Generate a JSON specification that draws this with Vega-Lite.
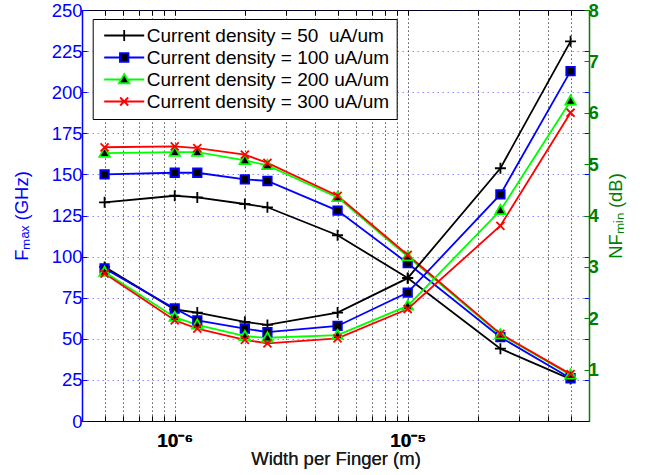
{
  "$schema": "https://vega.github.io/schema/vega-lite/v6.json",
  "width": 507,
  "height": 411,
  "autosize": {"type": "none"},
  "padding": {"left": 82, "top": 10, "right": 57, "bottom": 54},
  "background": "white",
  "config": {
    "view": {"stroke": "black", "strokeWidth": 1},
    "font": "Liberation Sans",
    "legend": {
      "orient": "none",
      "legendX": 10.7,
      "legendY": 9,
      "direction": "vertical",
      "strokeColor": "black",
      "fillColor": "white",
      "padding": 7,
      "rowPadding": 2,
      "symbolSize": 100,
      "symbolStrokeWidth": 1.8,
      "labelFont": "Liberation Sans",
      "labelFontSize": 19,
      "labelColor": "black",
      "labelOffset": 28,
      "labelLimit": 400
    }
  },
  "data": {
    "values": [
      {"w": 5e-7, "d": "50", "fmax": 133, "nf": 3.0},
      {"w": 1e-6, "d": "50", "fmax": 137, "nf": 2.17},
      {"w": 1.25e-6, "d": "50", "fmax": 136, "nf": 2.11},
      {"w": 2e-6, "d": "50", "fmax": 132, "nf": 1.93},
      {"w": 2.5e-6, "d": "50", "fmax": 130, "nf": 1.87},
      {"w": 5e-6, "d": "50", "fmax": 113, "nf": 2.11},
      {"w": 1e-5, "d": "50", "fmax": 87, "nf": 2.78},
      {"w": 2.5e-5, "d": "50", "fmax": 44, "nf": 4.92},
      {"w": 5e-5, "d": "50", "fmax": 25.5, "nf": 7.39},
      {"w": 5e-7, "d": "100", "fmax": 150, "nf": 2.97},
      {"w": 1e-6, "d": "100", "fmax": 151, "nf": 2.19},
      {"w": 1.25e-6, "d": "100", "fmax": 151, "nf": 1.96},
      {"w": 2e-6, "d": "100", "fmax": 147, "nf": 1.80},
      {"w": 2.5e-6, "d": "100", "fmax": 146, "nf": 1.73},
      {"w": 5e-6, "d": "100", "fmax": 128, "nf": 1.85},
      {"w": 1e-5, "d": "100", "fmax": 96, "nf": 2.50},
      {"w": 2.5e-5, "d": "100", "fmax": 51, "nf": 4.41},
      {"w": 5e-5, "d": "100", "fmax": 26, "nf": 6.81},
      {"w": 5e-7, "d": "200", "fmax": 163, "nf": 2.90},
      {"w": 1e-6, "d": "200", "fmax": 163.5, "nf": 2.02},
      {"w": 1.25e-6, "d": "200", "fmax": 163.5, "nf": 1.87},
      {"w": 2e-6, "d": "200", "fmax": 158.5, "nf": 1.65},
      {"w": 2.5e-6, "d": "200", "fmax": 155.5, "nf": 1.62},
      {"w": 5e-6, "d": "200", "fmax": 136, "nf": 1.67},
      {"w": 1e-5, "d": "200", "fmax": 100, "nf": 2.24},
      {"w": 2.5e-5, "d": "200", "fmax": 52.5, "nf": 4.10},
      {"w": 5e-5, "d": "200", "fmax": 28, "nf": 6.23},
      {"w": 5e-7, "d": "300", "fmax": 166.5, "nf": 2.87},
      {"w": 1e-6, "d": "300", "fmax": 167, "nf": 1.96},
      {"w": 1.25e-6, "d": "300", "fmax": 166, "nf": 1.80},
      {"w": 2e-6, "d": "300", "fmax": 162, "nf": 1.58},
      {"w": 2.5e-6, "d": "300", "fmax": 157, "nf": 1.51},
      {"w": 5e-6, "d": "300", "fmax": 137, "nf": 1.61},
      {"w": 1e-5, "d": "300", "fmax": 101, "nf": 2.18},
      {"w": 2.5e-5, "d": "300", "fmax": 53, "nf": 3.80},
      {"w": 5e-5, "d": "300", "fmax": 28.5, "nf": 6.00}
    ]
  },
  "encoding": {
    "x": {
      "field": "w",
      "type": "quantitative",
      "scale": {"type": "log", "domain": [4e-7, 6e-5], "nice": false},
      "axis": {
        "orient": "bottom",
        "values": [4e-7, 5e-7, 6e-7, 7e-7, 8e-7, 9e-7, 1e-6, 2e-6, 3e-6, 4e-6, 5e-6, 6e-6, 7e-6, 8e-6, 9e-6, 1e-5, 2e-5, 3e-5, 4e-5, 5e-5, 6e-5],
        "labelExpr": "abs(log(datum.value)/LN10 + 6) < 0.01 ? '10⁻⁶' : (abs(log(datum.value)/LN10 + 5) < 0.01 ? '10⁻⁵' : '')",
        "title": "Width per Finger (m)",
        "titleFont": "Liberation Sans",
        "titleFontSize": 18.5,
        "titleFontWeight": "normal",
        "titleColor": "#1a1a1a",
        "titlePadding": -1,
        "labelFont": "Liberation Sans",
        "labelFontSize": 19,
        "labelFontWeight": "bold",
        "labelColor": "black",
        "labelPadding": 15,
        "labelOverlap": false,
        "labelFlush": false,
        "labelBound": false,
        "tickSize": -5,
        "tickColor": "black",
        "domainColor": "black",
        "grid": true,
        "gridColor": "#555555",
        "gridDash": [1.5, 2.5],
        "gridOpacity": 0.7
      }
    }
  },
  "layer": [
    {
      "encoding": {
        "stroke": {
          "field": "d",
          "type": "nominal",
          "scale": {"domain": ["100", "200", "300", "50"], "range": ["#0000FF", "#00FF00", "#FF0000", "#000000"]},
          "legend": null
        }
      },
      "layer": [
        {
          "mark": {"type": "line", "strokeWidth": 1.8},
          "encoding": {
            "y": {
              "field": "fmax",
              "type": "quantitative",
              "scale": {"domain": [0, 250], "nice": false},
              "axis": {
                "orient": "left",
                "values": [0, 25, 50, 75, 100, 125, 150, 175, 200, 225, 250],
                "title": "Fₘₐₓ (GHz)",
                "titleColor": "#0000FF",
                "titleFont": "Liberation Sans",
                "titleFontSize": 18.5,
                "titleFontWeight": "normal",
                "titlePadding": 20,
                "labelColor": "#0000FF",
                "labelFont": "Liberation Sans",
                "labelFontSize": 18.5,
                "labelPadding": 5,
                "tickColor": "#0000FF",
                "tickSize": -5,
                "domainColor": "#0000FF",
                "domainWidth": 1.5,
                "grid": true,
                "gridColor": "#0000FF",
                "gridDash": [1.5, 3.5],
                "gridOpacity": 0.45
              }
            }
          }
        },
        {
          "mark": {"type": "point", "strokeWidth": 1.8, "opacity": 1, "size": 100},
          "encoding": {
            "y": {
              "field": "fmax",
              "type": "quantitative",
              "axis": {
                "orient": "right",
                "values": [25, 50, 75, 100, 125, 150, 175, 200, 225],
                "labels": false,
                "title": null,
                "domain": false,
                "grid": false,
                "tickColor": "#0000FF",
                "tickSize": -5
              }
            },
            "fill": {
              "field": "d",
              "type": "nominal",
              "scale": {"domain": ["100", "200", "300", "50"], "range": ["#000000", "#000000", "transparent", "transparent"]},
              "legend": null
            },
            "shape": {
              "field": "d",
              "type": "nominal",
              "scale": {"domain": ["100", "200", "300", "50"], "range": ["M-0.85,-0.85H0.85V0.85H-0.85Z", "M0,-1.1L1.05,0.75H-1.05Z", "M-0.8,-0.8L0.8,0.8M-0.8,0.8L0.8,-0.8", "M-1.1,0H1.1M0,-1.1V1.1"]},
              "legend": null
            }
          }
        }
      ]
    },
    {
      "encoding": {
        "stroke": {
          "field": "d",
          "type": "nominal",
          "scale": {"domain": ["100", "200", "300", "50"], "range": ["#0000FF", "#00FF00", "#FF0000", "#000000"]},
          "legend": null
        }
      },
      "layer": [
        {
          "mark": {"type": "line", "strokeWidth": 1.8},
          "encoding": {
            "x": {
              "field": "w",
              "type": "quantitative",
              "axis": {
                "orient": "top",
                "values": [5e-7, 6e-7, 7e-7, 8e-7, 9e-7, 1e-6, 2e-6, 3e-6, 4e-6, 5e-6, 6e-6, 7e-6, 8e-6, 9e-6, 1e-5, 2e-5, 3e-5, 4e-5, 5e-5],
                "labels": false,
                "title": null,
                "domain": false,
                "grid": false,
                "tickColor": "black",
                "tickSize": -5
              }
            },
            "y": {
              "field": "nf",
              "type": "quantitative",
              "scale": {"domain": [0, 8], "nice": false},
              "axis": {
                "orient": "right",
                "values": [1, 2, 3, 4, 5, 6, 7, 8],
                "title": "NFₘᵢₙ (dB)",
                "titleAngle": 270,
                "titleColor": "#008000",
                "titleFont": "Liberation Sans",
                "titleFontSize": 18.5,
                "titleFontWeight": "normal",
                "titlePadding": 27,
                "labelColor": "#008000",
                "labelFont": "Liberation Sans",
                "labelFontSize": 18.5,
                "labelFontWeight": "bold",
                "labelPadding": 4,
                "tickColor": "#008000",
                "tickSize": -5,
                "domainColor": "#008000",
                "domainWidth": 1.5,
                "grid": false
              }
            }
          }
        },
        {
          "mark": {"type": "point", "strokeWidth": 1.8, "opacity": 1, "size": 100},
          "encoding": {
            "y": {"field": "nf", "type": "quantitative"},
            "fill": {
              "field": "d",
              "type": "nominal",
              "scale": {"domain": ["100", "200", "300", "50"], "range": ["#000000", "#000000", "transparent", "transparent"]},
              "legend": null
            },
            "shape": {
              "field": "d",
              "type": "nominal",
              "scale": {"domain": ["100", "200", "300", "50"], "range": ["M-0.85,-0.85H0.85V0.85H-0.85Z", "M0,-1.1L1.05,0.75H-1.05Z", "M-0.8,-0.8L0.8,0.8M-0.8,0.8L0.8,-0.8", "M-1.1,0H1.1M0,-1.1V1.1"]},
              "legend": null
            }
          }
        }
      ]
    },
    {
      "transform": [{"filter": "false"}],
      "mark": {"type": "point", "filled": true, "fill": "black", "strokeWidth": 1.8, "opacity": 1, "size": 100},
      "encoding": {
        "x": {"field": "w", "type": "quantitative", "axis": null},
        "stroke": {
          "field": "d",
          "type": "nominal",
          "title": null,
          "scale": {"domain": ["50", "100", "200", "300"], "range": ["#000000", "#0000FF", "#00FF00", "#FF0000"]},
          "legend": {
            "title": null,
            "labelExpr": "'Current density = ' + datum.value + (datum.value == '50' ? '\u00a0 ' : ' ') + 'uA/um'"
          }
        },
        "shape": {
          "field": "d",
          "type": "nominal",
          "title": null,
          "scale": {"domain": ["50", "100", "200", "300"], "range": ["M-1,0H7M3,-1.1V1.1", "M-1,0H2.15M3.85,0H7M2.15,-0.85H3.85V0.85H2.15Z", "M-1,0H2.38M3.62,0H7M3,-1.1L4.05,0.75H1.95Z", "M-1,0H7M2.2,-0.8L3.8,0.8M2.2,0.8L3.8,-0.8"]},
          "legend": {
            "title": null,
            "labelExpr": "'Current density = ' + datum.value + (datum.value == '50' ? '\u00a0 ' : ' ') + 'uA/um'"
          }
        }
      }
    }
  ],
  "resolve": {"scale": {"y": "independent", "stroke": "independent", "fill": "independent", "shape": "independent"}}
}
